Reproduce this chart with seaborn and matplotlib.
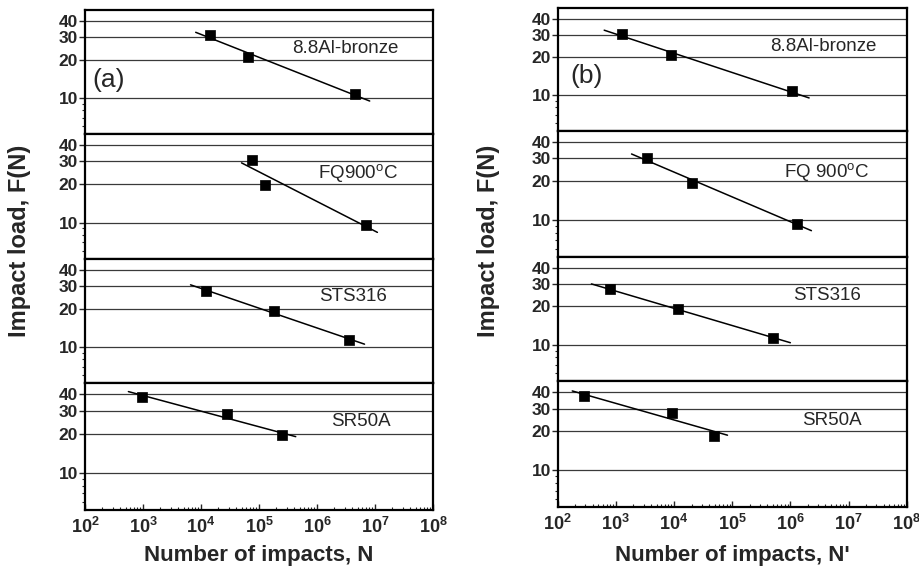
#!/usr/bin/env python3
import matplotlib
matplotlib.use("Agg")
import matplotlib.pyplot as plt
from matplotlib.ticker import FixedLocator, LogLocator, NullFormatter, FuncFormatter
import numpy as np
import pandas as pd
import seaborn as sns

# panel labels (top to bottom)
materials_a = ["8.8Al-bronze", "FQ900$^\\mathrm{o}$C", "STS316", "SR50A"]
materials_b = ["8.8Al-bronze", "FQ 900$^\\mathrm{o}$C", "STS316", "SR50A"]

# (a) impact load vs number of impacts N
impacts_a = [[1.43e4, 6.5e4, 4.5e6], [7.6e4, 1.27e5, 7.0e6],
             [1.2e4, 1.8e5, 3.5e6], [9.8e2, 2.76e4, 2.45e5]]
load_a = [[31.2, 20.9, 10.7], [31.0, 19.7, 9.5],
          [27.5, 19.0, 11.4], [38.2, 28.5, 19.4]]
fit_span_a = [(8.1e3, 8.1e6), (5.0e4, 1.1e7), (6.6e3, 6.6e6), (5.6e2, 4.3e5)]

# (b) impact load vs number of impacts N'
impacts_b = [[1.29e3, 8.8e3, 1.07e6], [3.4e3, 2.0e4, 1.3e6],
             [7.9e2, 1.15e4, 5.0e5], [2.87e2, 9.3e3, 4.9e4]]
load_b = [[30.5, 20.7, 10.7], [30.2, 19.4, 9.4],
          [27.2, 18.9, 11.4], [37.3, 27.6, 18.6]]
fit_span_b = [(6.3e2, 2.1e6), (1.86e3, 2.3e6), (3.8e2, 1.0e6), (1.78e2, 8.3e4)]

y_ticks = [10, 20, 30, 40]

sns.set_style("ticks")
plt.rcParams["font.family"] = ["Liberation Sans", "DejaVu Sans"]
plt.rcParams["mathtext.fontset"] = "custom"
plt.rcParams["mathtext.rm"] = "Liberation Sans"
plt.rcParams["mathtext.bf"] = "Liberation Sans:bold"
plt.rcParams["mathtext.it"] = "Liberation Sans:italic"

fig = plt.figure(figsize=(9.2, 5.7), dpi=100)
W, H = 920, 570

columns = [
    dict(x0=85, x1=433, rows=[10, 134, 259, 383, 510], names=materials_a,
         N=impacts_a, F=load_a, span=fit_span_a, tag="(a)", tag_xy=(0.067, 0.435),
         name_xy=[(0.747, 0.69), (0.785, 0.686), (0.77, 0.696), (0.793, 0.695)],
         xlabel="Number of impacts, N", ylab_x=20),
    dict(x0=557.7, x1=906.7, rows=[8, 131, 256.7, 381, 507.3], names=materials_b,
         N=impacts_b, F=load_b, span=fit_span_b, tag="(b)", tag_xy=(0.083, 0.448),
         name_xy=[(0.761, 0.687), (0.771, 0.676), (0.771, 0.686), (0.785, 0.69)],
         xlabel="Number of impacts, N'", ylab_x=488),
]

for c in columns:
    for row in range(4):
        top, bot = c["rows"][row], c["rows"][row + 1]
        ax = fig.add_axes([c["x0"] / W, 1 - bot / H, (c["x1"] - c["x0"]) / W, (bot - top) / H])
        ax.set_xscale("log")
        ax.set_yscale("log")

        df = pd.DataFrame({"N": c["N"][row], "F": c["F"][row]})
        slope, icpt = np.polyfit(np.log10(df["N"]), np.log10(df["F"]), 1)
        xs = np.logspace(np.log10(c["span"][row][0]), np.log10(c["span"][row][1]), 30)
        fit = pd.DataFrame({"N": xs, "F": 10 ** (icpt + slope * np.log10(xs))})

        sns.lineplot(data=fit, x="N", y="F", color="black", lw=1.1, ax=ax)
        sns.scatterplot(data=df, x="N", y="F", marker="s", s=62, color="black",
                        edgecolor="black", linewidth=0.5, ax=ax, zorder=3)

        ax.set_xlim(1e2, 1e8)
        ax.set_ylim(5.2, 49)
        ax.set_xlabel("")
        ax.set_ylabel("")

        ax.yaxis.set_major_locator(FixedLocator(y_ticks))
        ax.set_yticklabels([str(t) for t in y_ticks], fontweight="bold", fontsize=12.5)
        ax.yaxis.set_minor_locator(LogLocator(base=10, subs=np.arange(2, 10), numticks=10))
        ax.yaxis.set_minor_formatter(NullFormatter())
        ax.tick_params(axis="y", which="major", direction="out", length=4, width=1, pad=1)
        ax.tick_params(axis="y", which="minor", direction="out", length=2, width=0.8)
        ax.yaxis.grid(True, which="major", color="#3a3a3a", lw=0.9)

        ax.xaxis.set_major_locator(LogLocator(base=10, numticks=10))
        ax.xaxis.set_minor_locator(LogLocator(base=10, subs=np.arange(2, 10), numticks=10))
        ax.xaxis.set_minor_formatter(NullFormatter())
        if row == 3:
            ax.xaxis.set_major_formatter(FuncFormatter(
                lambda v, p: "$\\mathbf{10^{%d}}$" % int(round(np.log10(v)))))
            ax.tick_params(axis="x", which="major", direction="in", length=4, width=1,
                           labelsize=13, pad=5)
            ax.tick_params(axis="x", which="minor", direction="in", length=2, width=0.8)
        else:
            ax.tick_params(axis="x", which="both", bottom=False, labelbottom=False)

        for s in ax.spines.values():
            s.set_linewidth(1.6)
            s.set_color("black")

        nx, ny = c["name_xy"][row]
        ax.text(nx, ny, c["names"][row], transform=ax.transAxes, ha="center", va="center",
                fontsize=13.5)
        if row == 0:
            ax.text(c["tag_xy"][0], c["tag_xy"][1], c["tag"], transform=ax.transAxes,
                    ha="center", va="center", fontsize=19)

    mid_x = (c["x0"] + c["x1"]) / 2 / W
    fig.text(mid_x, 1 - 556 / H, c["xlabel"], ha="center", va="center",
             fontsize=16, fontweight="bold")
    fig.text(c["ylab_x"] / W, 1 - 241 / H, "Impact load, F(N)", rotation=90,
             ha="center", va="center", fontsize=17, fontweight="bold")

fig.savefig("out.png", dpi=100)
plt.close(fig)
